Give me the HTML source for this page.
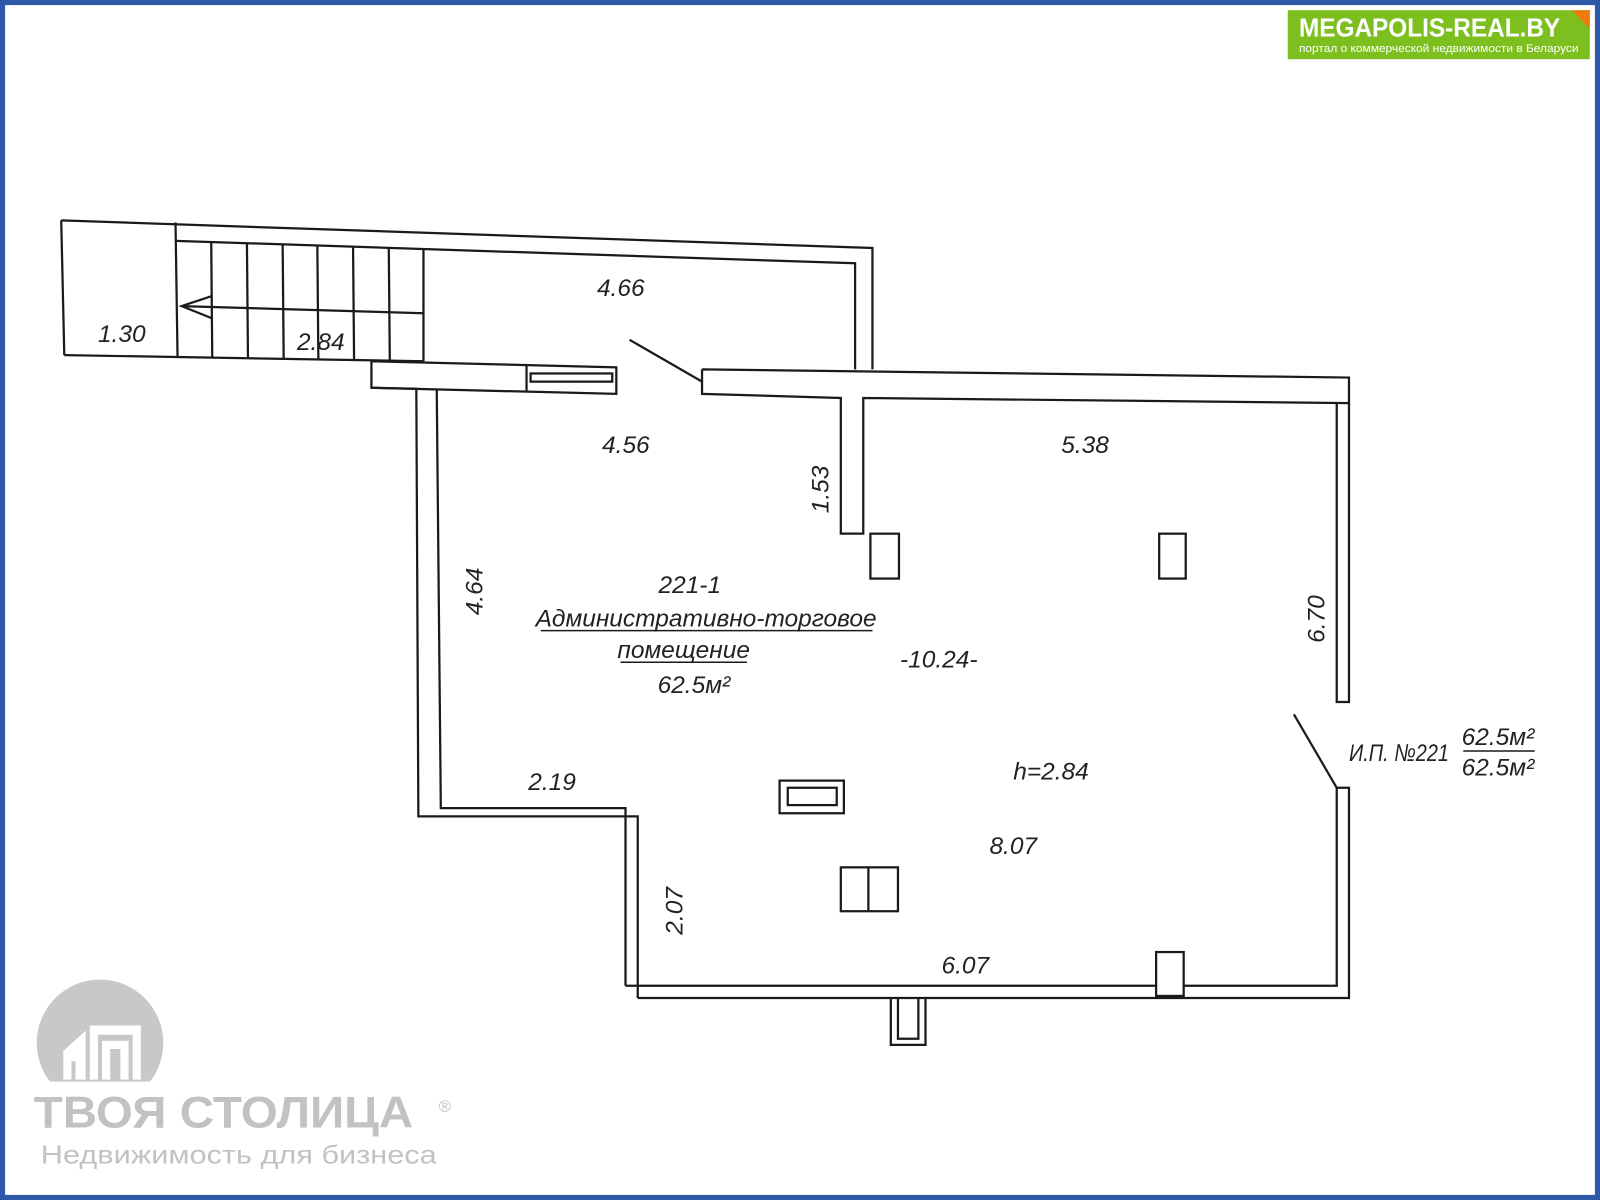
<!DOCTYPE html>
<html><head><meta charset="utf-8"><style>
html,body{margin:0;padding:0;background:#fff;}
svg{display:block;}
text{font-family:"Liberation Sans","DejaVu Sans",sans-serif;}
.d{font-style:italic;font-size:24px;fill:#222;}
</style></head><body>
<svg width="1600" height="1200" viewBox="0 0 1568 1176" xmlns="http://www.w3.org/2000/svg">
<rect x="0" y="0" width="1568" height="1176" fill="#fff"/>
<rect x="2.5" y="2.5" width="1563" height="1171" fill="none" stroke="#2d58a6" stroke-width="5"/>
<!-- banner -->
<rect x="1262" y="10" width="296" height="48" fill="#7dbf1f"/>
<polygon points="1540,10 1558,10 1558,28" fill="#f07a10"/>
<text x="1273" y="36" font-size="25" font-weight="bold" fill="#fff" textLength="256" lengthAdjust="spacingAndGlyphs">MEGAPOLIS-REAL.BY</text>
<text x="1273" y="51" font-size="10.5" fill="#fff" textLength="274" lengthAdjust="spacingAndGlyphs">портал о коммерческой недвижимости в Беларуси</text>
<!-- logo -->
<circle cx="98" cy="1022" r="62" fill="#c8c8c8"/>
<rect x="30" y="1060" width="140" height="30" fill="#fff"/>
<path d="M62 1030 L84 1010 L84 1058 L74 1058 L74 1040 L70 1040 L70 1058 L62 1058 Z" fill="#fff"/>
<path d="M88 1005 L138 1005 L138 1058 L130 1058 L130 1014 L96 1014 L96 1058 L88 1058 Z" fill="#fff"/>
<path d="M100 1020 L126 1020 L126 1058 L118 1058 L118 1028 L108 1028 L108 1058 L100 1058 Z" fill="#fff"/>
<text x="33" y="1105" font-size="44" font-weight="bold" fill="#c2c2c2" textLength="372" lengthAdjust="spacingAndGlyphs">ТВОЯ СТОЛИЦА</text>
<text x="430" y="1090" font-size="16" fill="#c2c2c2">®</text>
<text x="40" y="1140" font-size="25" fill="#c2c2c2" textLength="388" lengthAdjust="spacingAndGlyphs">Недвижимость для бизнеса</text>
<!-- plan -->
<g fill="none" stroke="#1a1a1a" stroke-width="2.2">
<polyline points="60,216 855,243 855,362"/>
<polyline points="172,236 838,258 838,362"/>
<line x1="60" y1="216" x2="63" y2="348"/>
<line x1="63" y1="348" x2="415" y2="354"/>
<line x1="172" y1="218" x2="174" y2="350"/>
<line x1="207" y1="238" x2="208" y2="350"/>
<line x1="242" y1="239" x2="243" y2="351"/>
<line x1="277" y1="240" x2="278" y2="352"/>
<line x1="311" y1="241" x2="312" y2="352"/>
<line x1="346" y1="242" x2="347" y2="353"/>
<line x1="381" y1="243" x2="382" y2="353"/>
<line x1="415" y1="245" x2="415" y2="354"/>
<line x1="178" y1="300" x2="415" y2="307"/>
<polyline points="208,290 178,300 208,312"/>
<polyline points="364,354 604,360 604,386 364,380 364,354"/>
<line x1="516" y1="358" x2="516" y2="384"/>
<rect x="520" y="366" width="80" height="8"/>
<polyline points="364,380 408,381 410,800 625,800 625,978"/>
<polyline points="428,381 432,792 613,792 613,966"/>
<line x1="617" y1="333" x2="688" y2="374"/>
<polyline points="688,362 1322,370 1322,395 846,390 846,523 824,523 824,390 688,386 688,362"/>
<polyline points="1310,395 1310,688 1322,688 1322,395"/>
<line x1="1268" y1="700" x2="1310" y2="772"/>
<polyline points="1310,772 1322,772 1322,978 625,978"/>
<polyline points="1310,772 1310,966 613,966"/>
<rect x="853" y="523" width="28" height="44"/>
<rect x="1136" y="523" width="26" height="44"/>
<rect x="764" y="765" width="63" height="32"/>
<rect x="772" y="772" width="48" height="17"/>
<rect x="824" y="850" width="56" height="43"/>
<line x1="851" y1="850" x2="851" y2="893"/>
<rect x="1133" y="933" width="27" height="43" fill="#fff"/>
<polyline points="873,978 873,1024 907,1024 907,978"/>
<polyline points="880,978 880,1018 900,1018 900,978"/>
</g>
<g class="d">
<text x="585" y="290" class="d">4.66</text>
<text x="96" y="335" class="d">1.30</text>
<text x="291" y="343" class="d">2.84</text>
<text x="590" y="444" class="d">4.56</text>
<text x="1040" y="444" class="d">5.38</text>
<text x="0" y="0" class="d" transform="translate(812,503) rotate(-90)">1.53</text>
<text x="0" y="0" class="d" transform="translate(473,603) rotate(-90)">4.64</text>
<text x="0" y="0" class="d" transform="translate(1298,630) rotate(-90)">6.70</text>
<text x="0" y="0" class="d" transform="translate(669,916) rotate(-90)">2.07</text>
<text x="676" y="581" class="d" text-anchor="middle" font-size="22">221-1</text>
<text x="692" y="614" class="d" text-anchor="middle" font-size="22">Административно-торговое</text>
<text x="670" y="645" class="d" text-anchor="middle" font-size="22">помещение</text>
<text x="680" y="679" class="d" text-anchor="middle" font-size="22">62.5м²</text>
<text x="920" y="654" class="d" text-anchor="middle">-10.24-</text>
<text x="1030" y="764" class="d" text-anchor="middle">h=2.84</text>
<text x="541" y="774" class="d" text-anchor="middle">2.19</text>
<text x="993" y="837" class="d" text-anchor="middle">8.07</text>
<text x="946" y="954" class="d" text-anchor="middle">6.07</text>
<text x="1322" y="746" class="d" font-size="18" textLength="98" lengthAdjust="spacingAndGlyphs">И.П. №221</text>
<text x="1468" y="730" class="d" text-anchor="middle" font-size="19">62.5м²</text>
<text x="1468" y="760" class="d" text-anchor="middle" font-size="19">62.5м²</text>
</g>
<line x1="530" y1="618" x2="855" y2="618" stroke="#1a1a1a" stroke-width="1.5"/>
<line x1="608" y1="649" x2="732" y2="649" stroke="#1a1a1a" stroke-width="1.5"/>
<line x1="1434" y1="736" x2="1504" y2="736" stroke="#1a1a1a" stroke-width="1.5"/>
</svg>
</body></html>
